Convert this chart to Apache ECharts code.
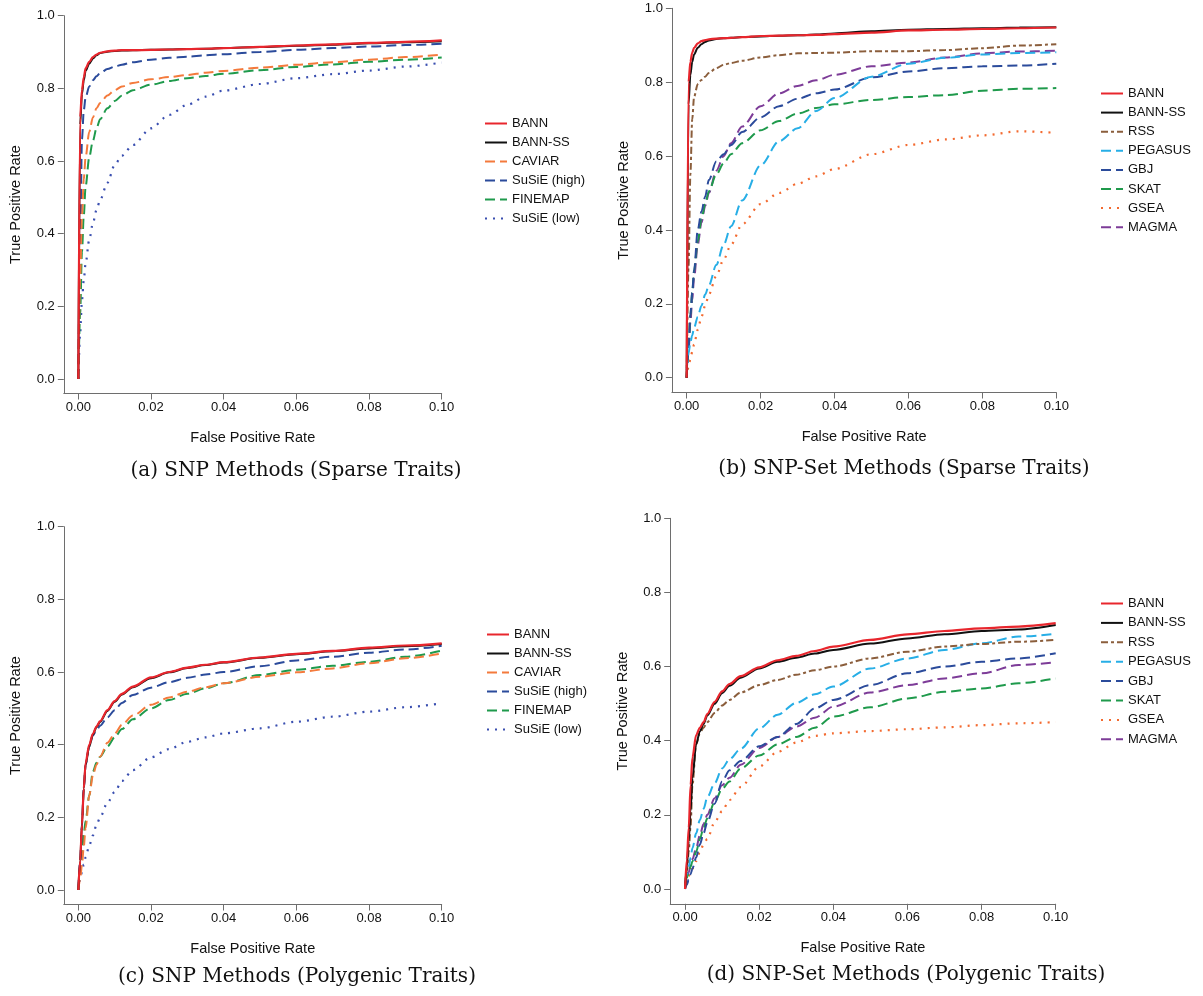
<!DOCTYPE html>
<html>
<head>
<meta charset="utf-8">
<title>ROC curves</title>
<script src="https://cdn.jsdelivr.net/npm/echarts@6/dist/echarts.min.js"></script>
<style>
  html, body { margin: 0; padding: 0; background: #fff; }
  #chart { width: 1203px; height: 996px; }
</style>
</head>
<body>
<div id="chart"></div>
<script>
// false positive rate grid shared by every curve
const fpr = [0, 0.0005, 0.001, 0.0015, 0.002, 0.003, 0.004, 0.005, 0.006, 0.008, 0.01, 0.012,
             0.015, 0.02, 0.025, 0.03, 0.035, 0.04, 0.05, 0.06, 0.07, 0.08, 0.09, 0.1];

// (a) SNP methods, sparse traits
const aBann      = [0, .72, .795, .83, .855, .873, .886, .893, .898, .902, .904, .905, .905, .906, .907, .908, .909, .911, .914, .918, .921, .925, .928, .932];
const aBannSS    = [0, .70, .785, .822, .848, .868, .882, .891, .897, .901, .903, .904, .905, .906, .907, .908, .909, .911, .914, .917, .920, .924, .927, .930];
const aCaviar    = [0, .28, .45, .55, .61, .68, .72, .745, .76, .78, .795, .805, .815, .825, .831, .837, .843, .848, .857, .865, .872, .879, .886, .893];
const aSusieHigh = [0, .35, .66, .74, .775, .805, .822, .833, .842, .853, .86, .865, .872, .879, .884, .887, .891, .894, .90, .906, .911, .915, .919, .923];
const aFinemap   = [0, .18, .35, .45, .53, .61, .655, .69, .715, .745, .765, .78, .795, .81, .82, .828, .834, .84, .85, .859, .866, .873, .879, .885];
const aSusieLow  = [0, .126, .217, .272, .318, .383, .428, .465, .493, .54, .589, .615, .644, .69, .727, .755, .777, .794, .812, .828, .839, .849, .86, .871];

// (b) SNP-set methods, sparse traits
const bBann    = [0, .80, .855, .88, .893, .905, .911, .914, .916, .918, .919, .920, .922, .925, .926, .927, .928, .930, .934, .94, .942, .944, .946, .948];
const bBannSS  = [0, .74, .82, .855, .875, .893, .903, .909, .913, .917, .919, .920, .922, .924, .926, .927, .929, .932, .938, .942, .944, .946, .948, .949];
const bRss     = [0, .30, .55, .70, .76, .795, .806, .815, .825, .838, .847, .852, .858, .867, .873, .878, .879, .88, .884, .884, .887, .892, .899, .903];
const bPegasus = [.02, .066, .095, .115, .135, .165, .195, .225, .25, .305, .36, .41, .48, .575, .64, .675, .722, .757, .815, .85, .866, .875, .879, .881];
const bGbj     = [0, .08, .17, .23, .29, .40, .45, .49, .535, .585, .605, .63, .665, .705, .735, .755, .77, .78, .813, .829, .838, .843, .845, .85];
const bSkat    = [0, .08, .17, .23, .29, .37, .43, .47, .505, .55, .58, .605, .635, .67, .695, .715, .73, .74, .752, .76, .765, .777, .782, .784];
const bGsea    = [0, .03, .05, .07, .09, .13, .165, .195, .225, .275, .32, .36, .415, .47, .50, .525, .545, .565, .605, .63, .645, .656, .667, .663];
const bMagma   = [0, .07, .15, .21, .27, .36, .42, .465, .50, .56, .60, .635, .68, .735, .77, .79, .805, .82, .843, .853, .867, .878, .883, .885];

// (c) SNP methods, polygenic traits
const cBann      = [0, .08, .18, .28, .35, .40, .43, .45, .465, .495, .52, .54, .56, .585, .60, .612, .62, .627, .64, .65, .658, .667, .673, .679];
const cBannSS    = [0, .08, .18, .28, .345, .395, .428, .448, .463, .493, .518, .538, .558, .583, .599, .611, .619, .626, .639, .649, .657, .665, .671, .677];
const cCaviar    = [0, .03, .07, .12, .17, .26, .315, .345, .367, .405, .43, .455, .48, .51, .53, .546, .558, .569, .587, .599, .61, .624, .638, .651];
const cSusieHigh = [0, .08, .18, .28, .345, .395, .425, .44, .452, .475, .495, .515, .537, .557, .572, .584, .593, .60, .616, .632, .642, .653, .662, .672];
const cFinemap   = [0, .05, .10, .155, .19, .26, .325, .35, .367, .395, .42, .443, .47, .50, .523, .54, .555, .569, .592, .606, .617, .628, .642, .659];
const cSusieLow  = [0, .03, .05, .07, .09, .122, .15, .179, .20, .24, .27, .30, .33, .365, .388, .408, .42, .431, .445, .463, .477, .491, .503, .514];

// (d) SNP-set methods, polygenic traits
const dBann    = [0, .08, .165, .28, .355, .415, .435, .45, .472, .505, .533, .553, .574, .598, .617, .629, .642, .654, .672, .687, .696, .703, .708, .717];
const dBannSS  = [0, .06, .13, .21, .30, .39, .425, .445, .468, .50, .528, .548, .570, .595, .613, .624, .635, .645, .662, .676, .687, .696, .70, .712];
const dRss     = [0, .05, .10, .17, .28, .39, .42, .435, .45, .475, .495, .51, .53, .55, .564, .578, .59, .60, .622, .64, .654, .661, .667, .672];
const dPegasus = [.02, .04, .06, .085, .11, .15, .186, .216, .247, .285, .325, .35, .378, .433, .47, .502, .525, .546, .595, .622, .645, .663, .681, .688];
const dGbj     = [0, .012, .025, .04, .055, .085, .12, .15, .18, .23, .29, .32, .345, .385, .41, .445, .487, .51, .55, .582, .60, .613, .622, .636];
const dSkat    = [.015, .03, .045, .06, .075, .10, .135, .165, .19, .235, .27, .29, .325, .36, .39, .41, .435, .465, .49, .514, .532, .541, .555, .568];
const dGsea    = [.015, .025, .035, .045, .055, .075, .10, .12, .135, .18, .21, .24, .275, .33, .37, .395, .413, .42, .426, .431, .436, .442, .447, .45];
const dMagma   = [0, .025, .045, .065, .08, .11, .145, .175, .20, .245, .28, .30, .335, .38, .41, .438, .462, .492, .53, .55, .568, .582, .604, .612];

const snpMethods = ['BANN', 'BANN-SS', 'CAVIAR', 'SuSiE (high)', 'FINEMAP', 'SuSiE (low)'];
const setMethods = ['BANN', 'BANN-SS', 'RSS', 'PEGASUS', 'GBJ', 'SKAT', 'GSEA', 'MAGMA'];
const xTicks = [0, 0.02, 0.04, 0.06, 0.08, 0.1];
const yTicks = [0, 0.2, 0.4, 0.6, 0.8, 1.0];
const captions = ['(a) SNP Methods (Sparse Traits)', '(b) SNP-Set Methods (Sparse Traits)',
                  '(c) SNP Methods (Polygenic Traits)', '(d) SNP-Set Methods (Polygenic Traits)'];

const sans = 'Liberation Sans, Arial, Helvetica, sans-serif';
const dash = [10, 5];
const dots = [2, 6];
const styles = {
  'BANN':         { color: '#e8262d', type: 'solid', width: 2.2 },
  'BANN-SS':      { color: '#111111', type: 'solid', width: 2 },
  'CAVIAR':       { color: '#f47a3c', type: dash, width: 2 },
  'SuSiE (high)': { color: '#2b4b9b', type: dash, width: 2 },
  'FINEMAP':      { color: '#1f9a4c', type: dash, width: 2 },
  'SuSiE (low)':  { color: '#3a4fb0', type: dots, width: 2.2 },
  'RSS':          { color: '#8b5e3c', type: [7, 3, 3, 3], width: 2 },
  'PEGASUS':      { color: '#27aee6', type: dash, width: 2 },
  'GBJ':          { color: '#2b4b9b', type: dash, width: 2 },
  'SKAT':         { color: '#1f9a4c', type: dash, width: 2 },
  'GSEA':         { color: '#f36a30', type: dots, width: 2.2 },
  'MAGMA':        { color: '#7d3c98', type: dash, width: 2 }
};

// panel boxes in pixels (plot area incl. R's 4% padding)
const panels = [
  { left: 63.8,  top: 15.7,  width: 377.9, height: 377.8, legendLeft: 484,  legendTop: 117, gap: 5,   cx: 296, cy: 471 },
  { left: 671.9, top: 8.3,   width: 384.4, height: 384.2, legendLeft: 1100, legendTop: 87,  gap: 5.1, cx: 904, cy: 469 },
  { left: 63.8,  top: 526.7, width: 377.9, height: 377.8, legendLeft: 486,  legendTop: 628, gap: 5,   cx: 297, cy: 977 },
  { left: 670.2, top: 518.3, width: 385.5, height: 385.5, legendLeft: 1100, legendTop: 597, gap: 5.4, cx: 906, cy: 975 }
];

const panelSeries = [
  { 'BANN': aBann, 'BANN-SS': aBannSS, 'CAVIAR': aCaviar, 'SuSiE (high)': aSusieHigh, 'FINEMAP': aFinemap, 'SuSiE (low)': aSusieLow },
  { 'BANN': bBann, 'BANN-SS': bBannSS, 'RSS': bRss, 'PEGASUS': bPegasus, 'GBJ': bGbj, 'SKAT': bSkat, 'GSEA': bGsea, 'MAGMA': bMagma },
  { 'BANN': cBann, 'BANN-SS': cBannSS, 'CAVIAR': cCaviar, 'SuSiE (high)': cSusieHigh, 'FINEMAP': cFinemap, 'SuSiE (low)': cSusieLow },
  { 'BANN': dBann, 'BANN-SS': dBannSS, 'RSS': dRss, 'PEGASUS': dPegasus, 'GBJ': dGbj, 'SKAT': dSkat, 'GSEA': dGsea, 'MAGMA': dMagma }
];
const panelNames = [snpMethods, setMethods, snpMethods, setMethods];

const axisColor = '#6e6e6e';
const grid = [], xAxis = [], yAxis = [], legend = [], series = [], graphic = [];

panels.forEach(function (p, i) {
  grid.push({ left: p.left, top: p.top, width: p.width, height: p.height });
  xAxis.push({
    gridIndex: i, type: 'value', min: -0.004, max: 0.1,
    name: 'False Positive Rate', nameLocation: 'middle', nameGap: 37,
    nameTextStyle: { fontFamily: sans, fontSize: 14.5, color: '#111' },
    axisLine: { show: true, onZero: false, lineStyle: { color: axisColor, width: 1 } },
    axisTick: { show: true, length: 6, customValues: xTicks, lineStyle: { color: axisColor } },
    axisLabel: { customValues: xTicks, margin: 7, fontFamily: sans, fontSize: 13, color: '#111',
                 formatter: function (v) { return v.toFixed(2); } },
    splitLine: { show: false }
  });
  yAxis.push({
    gridIndex: i, type: 'value', min: -0.04, max: 1.0,
    name: 'True Positive Rate', nameLocation: 'middle', nameGap: 40,
    nameTextStyle: { fontFamily: sans, fontSize: 14.5, color: '#111' },
    axisLine: { show: true, onZero: false, lineStyle: { color: axisColor, width: 1 } },
    axisTick: { show: true, length: 6, customValues: yTicks, lineStyle: { color: axisColor } },
    axisLabel: { customValues: yTicks, margin: 9, fontFamily: sans, fontSize: 13, color: '#111',
                 formatter: function (v) { return v.toFixed(1); } },
    splitLine: { show: false }
  });
  legend.push({
    orient: 'vertical', left: p.legendLeft, top: p.legendTop, padding: 0,
    itemWidth: 22, itemHeight: 14, itemGap: p.gap + 1,
    data: panelNames[i],
    // line-only keys: hide the marker ECharts puts on line series icons
    itemStyle: { opacity: 0 },
    textStyle: { fontFamily: sans, fontSize: 13, color: '#111' }
  });
  // draw in reverse legend order so BANN ends up on top
  panelNames[i].slice().reverse().forEach(function (name) {
    const ys = panelSeries[i][name];
    const st = styles[name];
    series.push({
      name: name, type: 'line', xAxisIndex: i, yAxisIndex: i,
      data: fpr.map(function (x, k) { return [x, ys[k]]; }),
      symbol: 'none', smooth: 0.3, smoothMonotone: 'x',
      lineStyle: { color: st.color, type: st.type, width: st.width },
      itemStyle: { color: st.color },
      emphasis: { disabled: true }
    });
  });
  graphic.push({
    type: 'text', x: p.cx, y: p.cy,
    style: { text: captions[i], fontFamily: 'DejaVu Serif, serif', fontSize: 20, fill: '#111',
             align: 'center', verticalAlign: 'middle' }
  });
});

const chart = echarts.init(document.getElementById('chart'));
chart.setOption({
  backgroundColor: '#ffffff',
  animation: false,
  grid: grid,
  xAxis: xAxis,
  yAxis: yAxis,
  legend: legend,
  series: series,
  graphic: graphic
});
</script>
</body>
</html>
